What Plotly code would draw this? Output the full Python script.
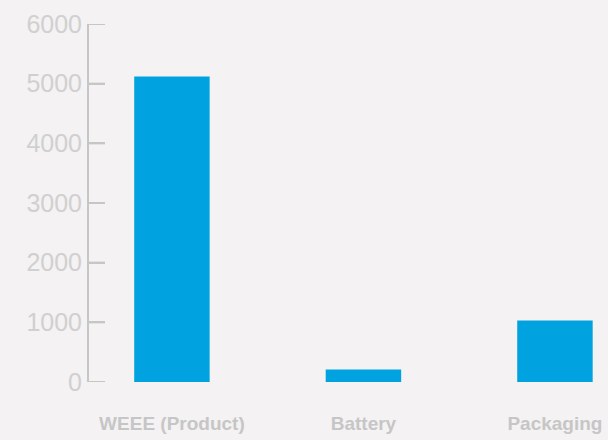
import plotly.graph_objects as go

categories = ["WEEE (Product)", "Battery", "Packaging"]
values = [5120, 210, 1030]
y_ticks = [0, 1000, 2000, 3000, 4000, 5000, 6000]

bg = "#f4f2f3"
axis_color = "#c6c6c6"
fig = go.Figure(go.Bar(x=categories, y=values, marker=dict(color="#00a3e0", line=dict(width=0)), width=0.394))

plot_w = 608 - 89
for v in y_ticks:
    fig.add_shape(type="line", xref="paper", yref="y", x0=0, x1=16 / plot_w, y0=v, y1=v,
                  line=dict(color=axis_color, width=2), layer="above")

fig.update_layout(
    width=608, height=440,
    margin=dict(l=89, r=0, t=24, b=57.5),
    paper_bgcolor=bg, plot_bgcolor=bg,
    showlegend=False,
    font=dict(family="Liberation Sans, Arial, sans-serif"),
)
fig.update_xaxes(
    range=[-0.433, 2.277], showgrid=False, showline=False, zeroline=False,
    ticks="", tickfont=dict(size=19, color="#c6c6c6", family="Liberation Sans, Arial, sans-serif", weight="bold"),
    ticklabelstandoff=28,
)
fig.update_yaxes(
    range=[0, 6000], tickvals=y_ticks, showgrid=False, zeroline=False,
    showline=True, linecolor=axis_color, linewidth=2,
    ticks="inside", ticklen=16, tickcolor=axis_color, tickwidth=2,
    tickfont=dict(size=25, color="#d0d0d0"),
)
fig.write_html("out.html", config={"displayModeBar": False},
               post_script="document.body.style.margin='0';document.body.style.overflow='hidden';document.body.style.background='" + bg + "';")
